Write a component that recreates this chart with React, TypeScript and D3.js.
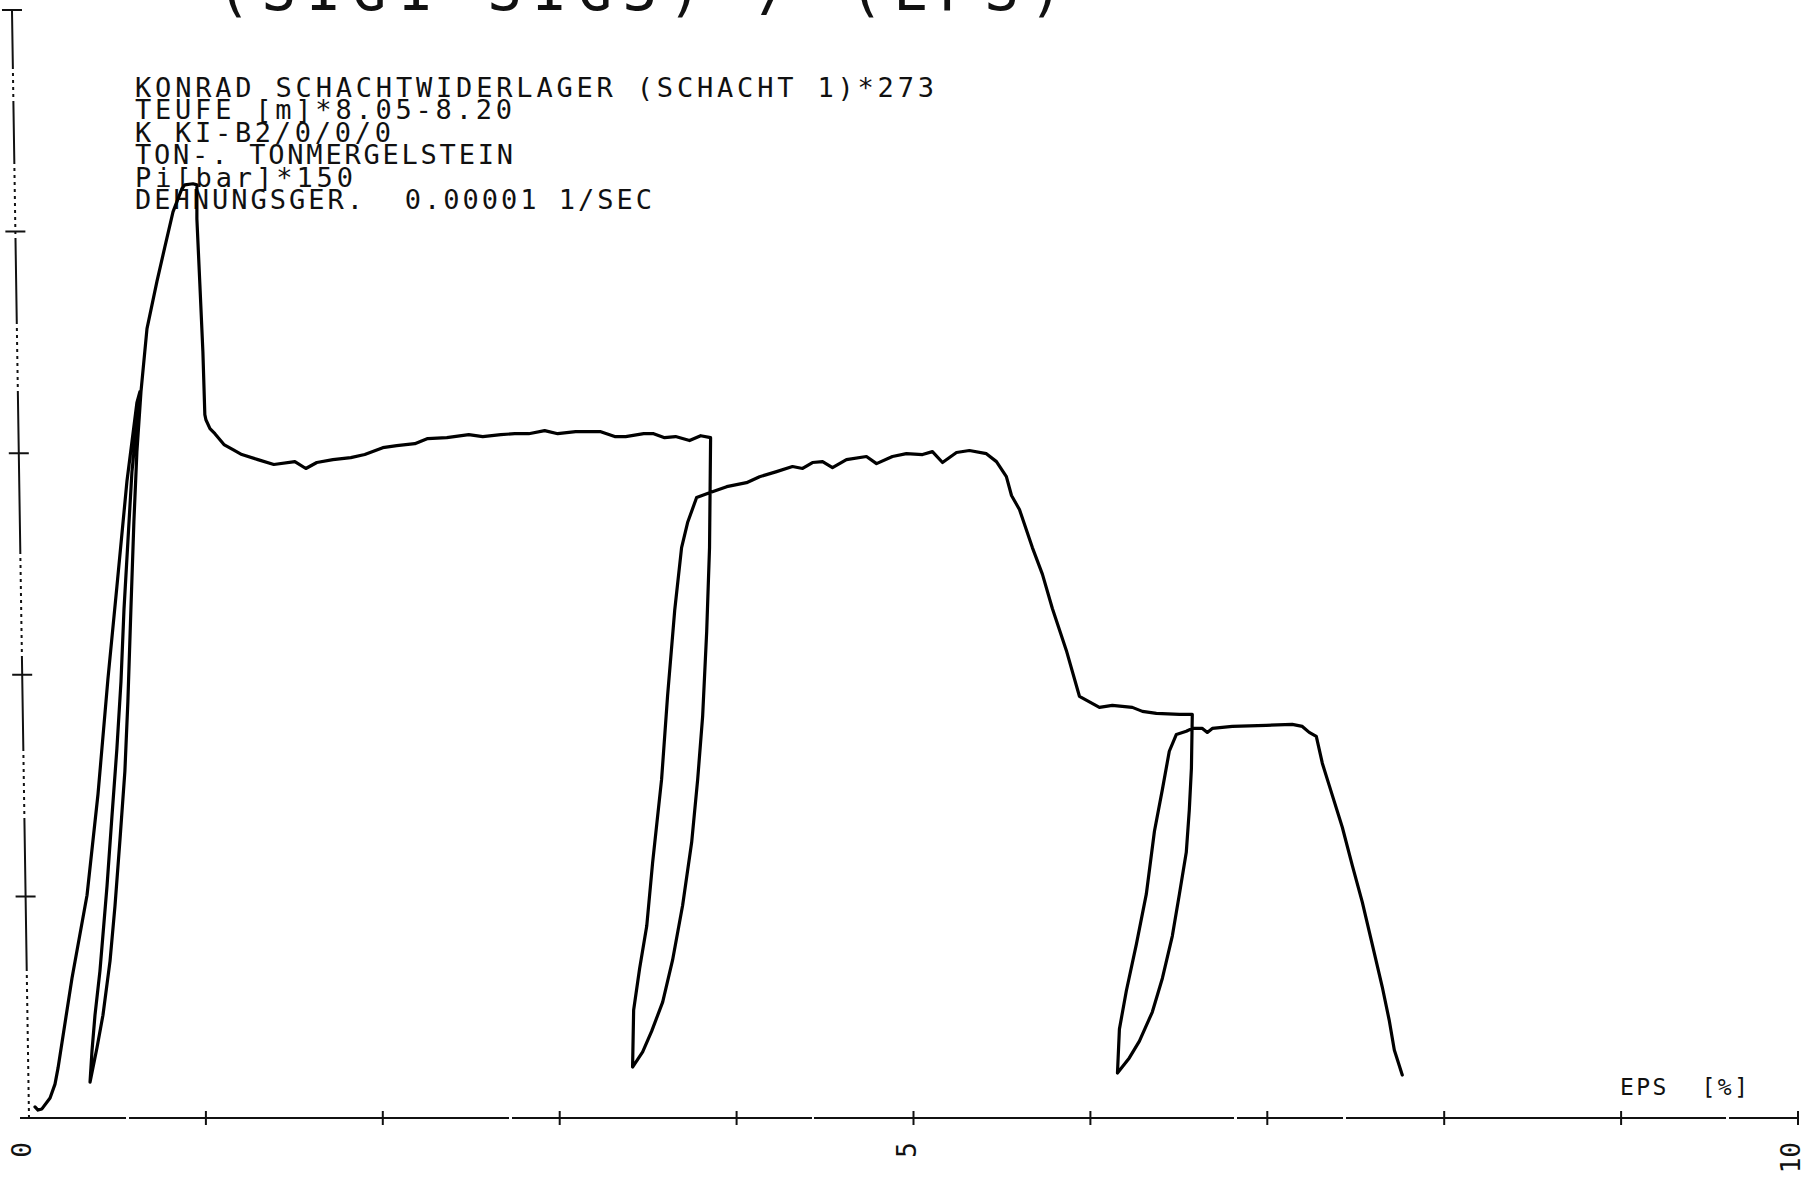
import { useEffect, useRef } from "react";
import * as d3 from "d3";

// EPS [%] along the recorded path (load, unload/reload loops, softening)
const eps = [
  // first loading
  0.034, 0.051, 0.073, 0.119, 0.147, 0.164, 0.243, 0.328, 0.39, 0.446, 0.497, 0.554, 0.61, 0.627,
  // first unloading
  0.61, 0.582, 0.559, 0.537, 0.52, 0.497, 0.469, 0.441, 0.401, 0.373, 0.356, 0.345,
  // reload, peak, first plateau
  0.384, 0.418, 0.458, 0.486, 0.514, 0.542, 0.559, 0.576, 0.593, 0.61, 0.633,
  0.667, 0.723, 0.768, 0.814, 0.864, 0.881, 0.927, 0.949, 0.949, 0.966, 0.983, 0.994,
  1.0, 1.023, 1.051, 1.102, 1.153, 1.203, 1.294, 1.384,
  1.503, 1.565, 1.627, 1.718, 1.819, 1.898,
  2.0, 2.079, 2.181, 2.254, 2.362, 2.486, 2.565, 2.667, 2.746, 2.825, 2.915, 2.989,
  3.09, 3.232, 3.311, 3.373, 3.475, 3.531, 3.593, 3.655, 3.734, 3.797, 3.853,
  // second unloading
  3.847, 3.831, 3.808, 3.78, 3.746, 3.695, 3.638, 3.582, 3.52, 3.469, 3.412,
  // reload, second plateau, softening
  3.418, 3.452, 3.492, 3.525, 3.576, 3.61, 3.65, 3.689, 3.723, 3.774,
  3.847, 3.944, 4.056, 4.13, 4.226, 4.316, 4.373, 4.429, 4.486, 4.542,
  4.621, 4.734, 4.791, 4.881, 4.96, 5.051, 5.107, 5.164, 5.243, 5.316,
  5.412, 5.469, 5.525, 5.554, 5.599, 5.672, 5.729, 5.785, 5.864, 5.938,
  6.051, 6.124, 6.237, 6.294, 6.373, 6.503, 6.576,
  // third unloading
  6.571, 6.559, 6.542, 6.503, 6.463, 6.407, 6.35, 6.277, 6.22, 6.153,
  // reload, third plateau, final unloading
  6.164, 6.203, 6.26, 6.316, 6.362, 6.407, 6.446, 6.486, 6.542, 6.576,
  6.633, 6.661, 6.689, 6.802, 6.994, 7.141, 7.198, 7.237, 7.277, 7.311,
  7.35, 7.424, 7.48, 7.537, 7.593, 7.65, 7.689, 7.718, 7.763,
];

// SIG1-SIG3 in axis tick units (the tick labels are cut off in the scan)
const dsig = [
  0.05, 0.036, 0.041, 0.09, 0.153, 0.225, 0.631, 1.005, 1.461, 1.979, 2.399, 2.876, 3.228, 3.278,
  3.143, 2.917, 2.601, 2.295, 1.97, 1.668, 1.362, 1.046, 0.663, 0.464, 0.302, 0.162,
  0.316, 0.464, 0.708, 0.956, 1.253, 1.564, 1.88, 2.295, 2.692, 3.007, 3.278,
  3.562, 3.774, 3.931, 4.089, 4.193, 4.211, 4.216, 4.211, 4.058, 3.76, 3.458, 3.174,
  3.151, 3.111, 3.088, 3.039, 3.016, 2.994, 2.971, 2.949,
  2.962, 2.931, 2.958, 2.971, 2.98, 2.994,
  3.025, 3.034, 3.043, 3.066, 3.07, 3.084, 3.075, 3.084, 3.088, 3.088, 3.102, 3.088,
  3.097, 3.097, 3.075, 3.075, 3.088, 3.088, 3.07, 3.075, 3.057, 3.079, 3.07,
  2.574, 2.196, 1.812, 1.528, 1.244, 0.96, 0.712, 0.523, 0.392, 0.298, 0.23,
  0.487, 0.676, 0.866, 1.15, 1.528, 1.907, 2.29, 2.574, 2.687, 2.8,
  2.822, 2.849, 2.867, 2.894, 2.917, 2.94, 2.931, 2.958, 2.962, 2.935,
  2.971, 2.985, 2.953, 2.985, 2.998, 2.994, 3.007, 2.958, 3.003, 3.012,
  2.998, 2.962, 2.894, 2.809, 2.746, 2.574, 2.453, 2.299, 2.11, 1.903,
  1.853, 1.862, 1.853, 1.835, 1.826, 1.821, 1.821,
  1.578, 1.389, 1.199, 1.01, 0.821, 0.631, 0.478, 0.347, 0.271, 0.203,
  0.401, 0.573, 0.785, 1.01, 1.294, 1.483, 1.655, 1.731, 1.745, 1.758,
  1.758, 1.74, 1.758, 1.767, 1.772, 1.776, 1.767, 1.74, 1.722, 1.601,
  1.501, 1.312, 1.141, 0.974, 0.785, 0.591, 0.442, 0.307, 0.194,
];

const xTicks = d3.range(0, 11);
const xLabelValues = [0, 5, 10];
const xLabels = ["0", "5", "10"];
const yTicks = d3.range(0, 6);

const titleText = "(SIG1-SIG3) / (EPS)";
const headerLines = [
  "KONRAD SCHACHTWIDERLAGER (SCHACHT 1)*273",
  "TEUFE [m]*8.05-8.20",
  "K KI-B2/0/0/0",
  "TON-. TONMERGELSTEIN",
  "Pi[bar]*150",
  "DEHNUNGSGER.  0.00001 1/SEC",
];
const xAxisLabel = "EPS  [%]";

export default function App() {
  const svgRef = useRef<SVGSVGElement>(null);

  useEffect(() => {
    const width = 1803;
    const height = 1177;
    const font = "'DejaVu Sans Mono', 'Liberation Mono', monospace";
    const ink = "#111";

    const x = d3.scaleLinear().domain([0, 10]).range([29, 1798]);
    const y = d3.scaleLinear().domain([0, 5]).range([1118, 10]);

    const svg = d3.select(svgRef.current).attr("width", width).attr("height", height);
    svg.selectAll("*").remove();

    svg.append("rect").attr("width", width).attr("height", height).attr("fill", "#fff");

    // big title, only its lower part is left on the scan
    svg
      .append("text")
      .attr("x", 216)
      .attr("y", 10)
      .attr("font-family", font)
      .attr("font-size", 58)
      .attr("textLength", 848)
      .attr("lengthAdjust", "spacing")
      .attr("fill", ink)
      .text(titleText);

    // header block
    const headerWidths = [799, 377, 256, 378, 218, 517];
    svg
      .append("g")
      .selectAll("text")
      .data(headerLines)
      .join("text")
      .attr("x", 135)
      .attr("y", (_, i) => 97 + i * 22.4)
      .attr("font-family", font)
      .attr("font-size", 27)
      .attr("textLength", (_, i) => headerWidths[i])
      .attr("lengthAdjust", "spacing")
      .attr("fill", ink)
      .style("white-space", "pre")
      .text((d) => d);

    // x axis
    const xg = svg.append("g").attr("stroke", ink);
    xg.append("line")
      .attr("x1", 20)
      .attr("x2", x(10))
      .attr("y1", y(0))
      .attr("y2", y(0))
      .attr("stroke-width", 2)
      .attr("stroke-dasharray", "106,3,380,3,300,2,420,3")
      ;
    xg.selectAll("line.tick")
      .data(xTicks.slice(1))
      .join("line")
      .attr("class", "tick")
      .attr("x1", (d) => x(d))
      .attr("x2", (d) => x(d))
      .attr("y1", y(0) - 7)
      .attr("y2", y(0) + 7)
      .attr("stroke-width", 2);

    svg
      .append("g")
      .selectAll("text")
      .data(xLabelValues)
      .join("text")
      .attr("transform", (d) => `translate(${x(d) + 2},1142) rotate(-90)`)
      .attr("text-anchor", "end")
      .attr("font-family", font)
      .attr("font-size", 26)
      .attr("fill", ink)
      .text((_, i) => xLabels[i]);

    svg
      .append("text")
      .attr("x", 1620)
      .attr("y", 1095)
      .attr("font-family", font)
      .attr("font-size", 23)
      .attr("textLength", 128)
      .attr("lengthAdjust", "spacing")
      .attr("fill", ink)
      .style("white-space", "pre")
      .text(xAxisLabel);

    // y axis: the plotter leaned a little, so skew it
    const yg = svg
      .append("g")
      .attr("transform", `translate(${x(0)},${y(0)}) skewX(0.88)`)
      .attr("stroke", ink);

    // solid runs mixed with dotted runs, measured from the bottom up
    const runs: [string, number][] = [
      ["dot", 150], ["solid", 150], ["dot", 70], ["solid", 92], ["dot", 110],
      ["solid", 160], ["dot", 74], ["solid", 83], ["dot", 77], ["solid", 60],
      ["dot", 38], ["solid", 60],
    ];
    const dash: number[] = [];
    runs.forEach(([kind, len]) => {
      if (kind === "solid") dash.push(len, 0);
      else for (let k = 0; k < Math.floor(len / 7); k++) dash.push(3, 4);
    });

    yg.append("line")
      .attr("x1", 0)
      .attr("x2", 0)
      .attr("y1", 0)
      .attr("y2", y(5) - y(0))
      .attr("stroke-width", 2)
      .attr("stroke-dasharray", dash.join(","));
    yg.selectAll("line.tick")
      .data(yTicks.slice(1))
      .join("line")
      .attr("class", "tick")
      .attr("x1", -10)
      .attr("x2", 10)
      .attr("y1", (d) => y(d) - y(0))
      .attr("y2", (d) => y(d) - y(0))
      .attr("stroke-width", 2);

    // the test curve
    const line = d3
      .line<[number, number]>()
      .x((d) => x(d[0]))
      .y((d) => y(d[1]));

    svg
      .append("path")
      .datum(d3.zip(eps, dsig) as [number, number][])
      .attr("d", line)
      .attr("fill", "none")
      .attr("stroke", "#000")
      .attr("stroke-width", 3.2)
      .attr("stroke-linejoin", "round")
      .attr("stroke-linecap", "round");
  }, []);

  return (
    <svg
      ref={svgRef}
      style={{ position: "absolute", left: 0, top: 0, display: "block" }}
    ></svg>
  );
}
